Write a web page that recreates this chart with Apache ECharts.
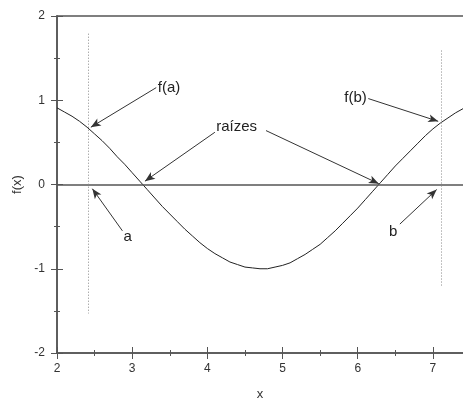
<!DOCTYPE html>
<html>
<head>
<meta charset="utf-8">
<script src="https://cdn.jsdelivr.net/npm/echarts@6/dist/echarts.min.js"></script>
<style>
  html, body { margin: 0; padding: 0; background: #fff; }
  #chart { width: 463px; height: 398px; }
</style>
</head>
<body>
<div id="chart"></div>
<script>
// Curve samples f(x)
const xValues = [2.0, 2.1, 2.2, 2.3, 2.4, 2.5, 2.6, 2.7, 2.8, 2.9,
  3.0, 3.1, 3.2, 3.3, 3.4, 3.5, 3.6, 3.7, 3.8, 3.9,
  4.0, 4.1, 4.2, 4.3, 4.4, 4.5, 4.6, 4.7, 4.8, 4.9,
  5.0, 5.1, 5.2, 5.3, 5.4, 5.5, 5.6, 5.7, 5.8, 5.9,
  6.0, 6.1, 6.2, 6.3, 6.4, 6.5, 6.6, 6.7, 6.8, 6.9,
  7.0, 7.1, 7.2, 7.3, 7.4];
const fValues = [0.91, 0.86, 0.81, 0.75, 0.68, 0.60, 0.52, 0.43, 0.33, 0.24,
  0.14, 0.04, -0.06, -0.16, -0.26, -0.35, -0.44, -0.53, -0.61, -0.69,
  -0.76, -0.82, -0.87, -0.92, -0.95, -0.98, -0.99, -1.00, -1.00, -0.98,
  -0.96, -0.93, -0.88, -0.83, -0.77, -0.71, -0.63, -0.55, -0.46, -0.37,
  -0.28, -0.18, -0.08, 0.02, 0.12, 0.22, 0.31, 0.40, 0.49, 0.58,
  0.66, 0.73, 0.79, 0.85, 0.90];

// Interval end points a, b and the extent of their dotted guide lines
const intervalX = [2.41, 7.11];
const guideTop = [1.79, 1.59];
const guideBottom = [-1.53, -1.2];

// Axis tick values
const xTicks = [2, 3, 4, 5, 6, 7];
const yTicks = [-2, -1, 0, 1, 2];

// Callout texts
const calloutTexts = ['f(a)', 'raízes', 'f(b)', 'a', 'b'];

// Callout placement (data coordinates)
const callouts = [
  { text: 0, at: [3.34, 1.15], align: 'left', arrows: [[[3.32, 1.15], [2.45, 0.68]]] },
  { text: 1, at: [4.39, 0.69], align: 'center', arrows: [[[4.10, 0.62], [3.17, 0.04]], [[4.78, 0.64], [6.28, 0.01]]] },
  { text: 2, at: [5.97, 1.03], align: 'center', arrows: [[[6.14, 1.02], [7.07, 0.75]]] },
  { text: 3, at: [2.94, -0.62], align: 'center', arrows: [[[2.87, -0.55], [2.47, -0.05]]] },
  { text: 4, at: [6.47, -0.56], align: 'center', arrows: [[[6.56, -0.47], [7.05, -0.06]]] }
];

const axisColor = '#555';
const labelColor = '#333';
const fontFamily = '"Liberation Sans", Arial, sans-serif';
const xMin = 2, xMax = 7.4, yMin = -2, yMax = 2;

const chart = echarts.init(document.getElementById('chart'), null, { renderer: 'canvas' });

function xAxisBase(extra) {
  return Object.assign({
    type: 'value', min: xMin, max: xMax, interval: 1,
    splitLine: { show: false },
    axisLine: { show: true, onZero: false, lineStyle: { color: axisColor, width: 1.5 } },
    axisTick: { show: true, length: 6, lineStyle: { color: axisColor, width: 1 } },
    minorTick: { show: true, splitNumber: 2, length: 3, lineStyle: { color: axisColor, width: 1 } },
    axisLabel: { show: false }
  }, extra);
}
function yAxisBase(extra) {
  return Object.assign({
    type: 'value', min: yMin, max: yMax, interval: 1,
    splitLine: { show: false },
    axisLine: { show: true, onZero: false, lineStyle: { color: axisColor, width: 1.5 } },
    axisTick: { show: true, length: 6, lineStyle: { color: axisColor, width: 1 } },
    minorTick: { show: true, splitNumber: 2, length: 3, lineStyle: { color: axisColor, width: 1 } },
    axisLabel: { show: false }
  }, extra);
}

const guideLines = intervalX.map((x, i) => [
  { coord: [x, guideTop[i]] },
  { coord: [x, guideBottom[i]] }
]);

const arrowLines = [];
callouts.forEach(c => c.arrows.forEach(a => arrowLines.push([
  { coord: a[0] }, { coord: a[1] }
])));

const textPoints = callouts.map(c => ({
  coord: c.at,
  value: calloutTexts[c.text],
  label: { align: c.align }
}));

chart.setOption({
  animation: false,
  grid: { left: 57, top: 16, right: 0, bottom: 45, containLabel: false, outerBoundsMode: 'none' },
  xAxis: [
    xAxisBase({
      position: 'bottom',
      name: 'x', nameLocation: 'middle', nameGap: 35,
      nameTextStyle: { color: labelColor, fontSize: 13, fontFamily: fontFamily },
      axisLabel: {
        show: true, margin: 10, color: labelColor, fontSize: 12, fontFamily: fontFamily,
        showMaxLabel: false,
        formatter: v => (xTicks.indexOf(v) >= 0 ? String(v) : '')
      }
    }),
    xAxisBase({ position: 'bottom', axisTick: { show: true, inside: true, length: 6, lineStyle: { color: axisColor, width: 1 } } }),
    xAxisBase({ position: 'top', axisTick: { show: false }, minorTick: { show: false } })
  ],
  yAxis: [
    yAxisBase({
      position: 'left',
      name: 'f(x)', nameLocation: 'middle', nameGap: 32, nameRotate: 90,
      nameTextStyle: { color: labelColor, fontSize: 13, fontFamily: fontFamily },
      axisLabel: {
        show: true, margin: 12, color: labelColor, fontSize: 12, fontFamily: fontFamily,
        formatter: v => (yTicks.indexOf(v) >= 0 ? String(v) : '')
      }
    }),
    yAxisBase({ position: 'left', axisTick: { show: true, inside: true, length: 6, lineStyle: { color: axisColor, width: 1 } } })
  ],
  series: [
    {
      type: 'line',
      xAxisIndex: 0, yAxisIndex: 0,
      data: xValues.map((x, i) => [x, fValues[i]]),
      showSymbol: false,
      smooth: false,
      lineStyle: { color: '#222', width: 1 },
      z: 3,
      markLine: {
        silent: true,
        symbol: ['none', 'none'],
        label: { show: false },
        data: [
          [{ coord: [xMin, 0], lineStyle: { color: axisColor, width: 1.5, type: 'solid' } },
           { coord: [xMax, 0] }]
        ].concat(guideLines.map(g => [
          Object.assign({ lineStyle: { color: '#888', width: 1, type: [1, 2] } }, g[0]), g[1]
        ]))
      }
    },
    {
      type: 'line',
      xAxisIndex: 0, yAxisIndex: 0,
      data: [],
      markLine: {
        silent: true,
        symbol: ['none', 'arrow'],
        symbolSize: [6, 10],
        label: { show: false },
        lineStyle: { color: '#333', width: 1, type: 'solid' },
        data: arrowLines
      },
      markPoint: {
        silent: true,
        symbol: 'circle',
        symbolSize: 1,
        itemStyle: { color: 'rgba(0,0,0,0)' },
        label: {
          show: true, position: 'inside', color: '#222',
          fontSize: 15, fontFamily: fontFamily,
          formatter: p => p.value
        },
        data: textPoints
      }
    }
  ]
});
</script>
</body>
</html>
